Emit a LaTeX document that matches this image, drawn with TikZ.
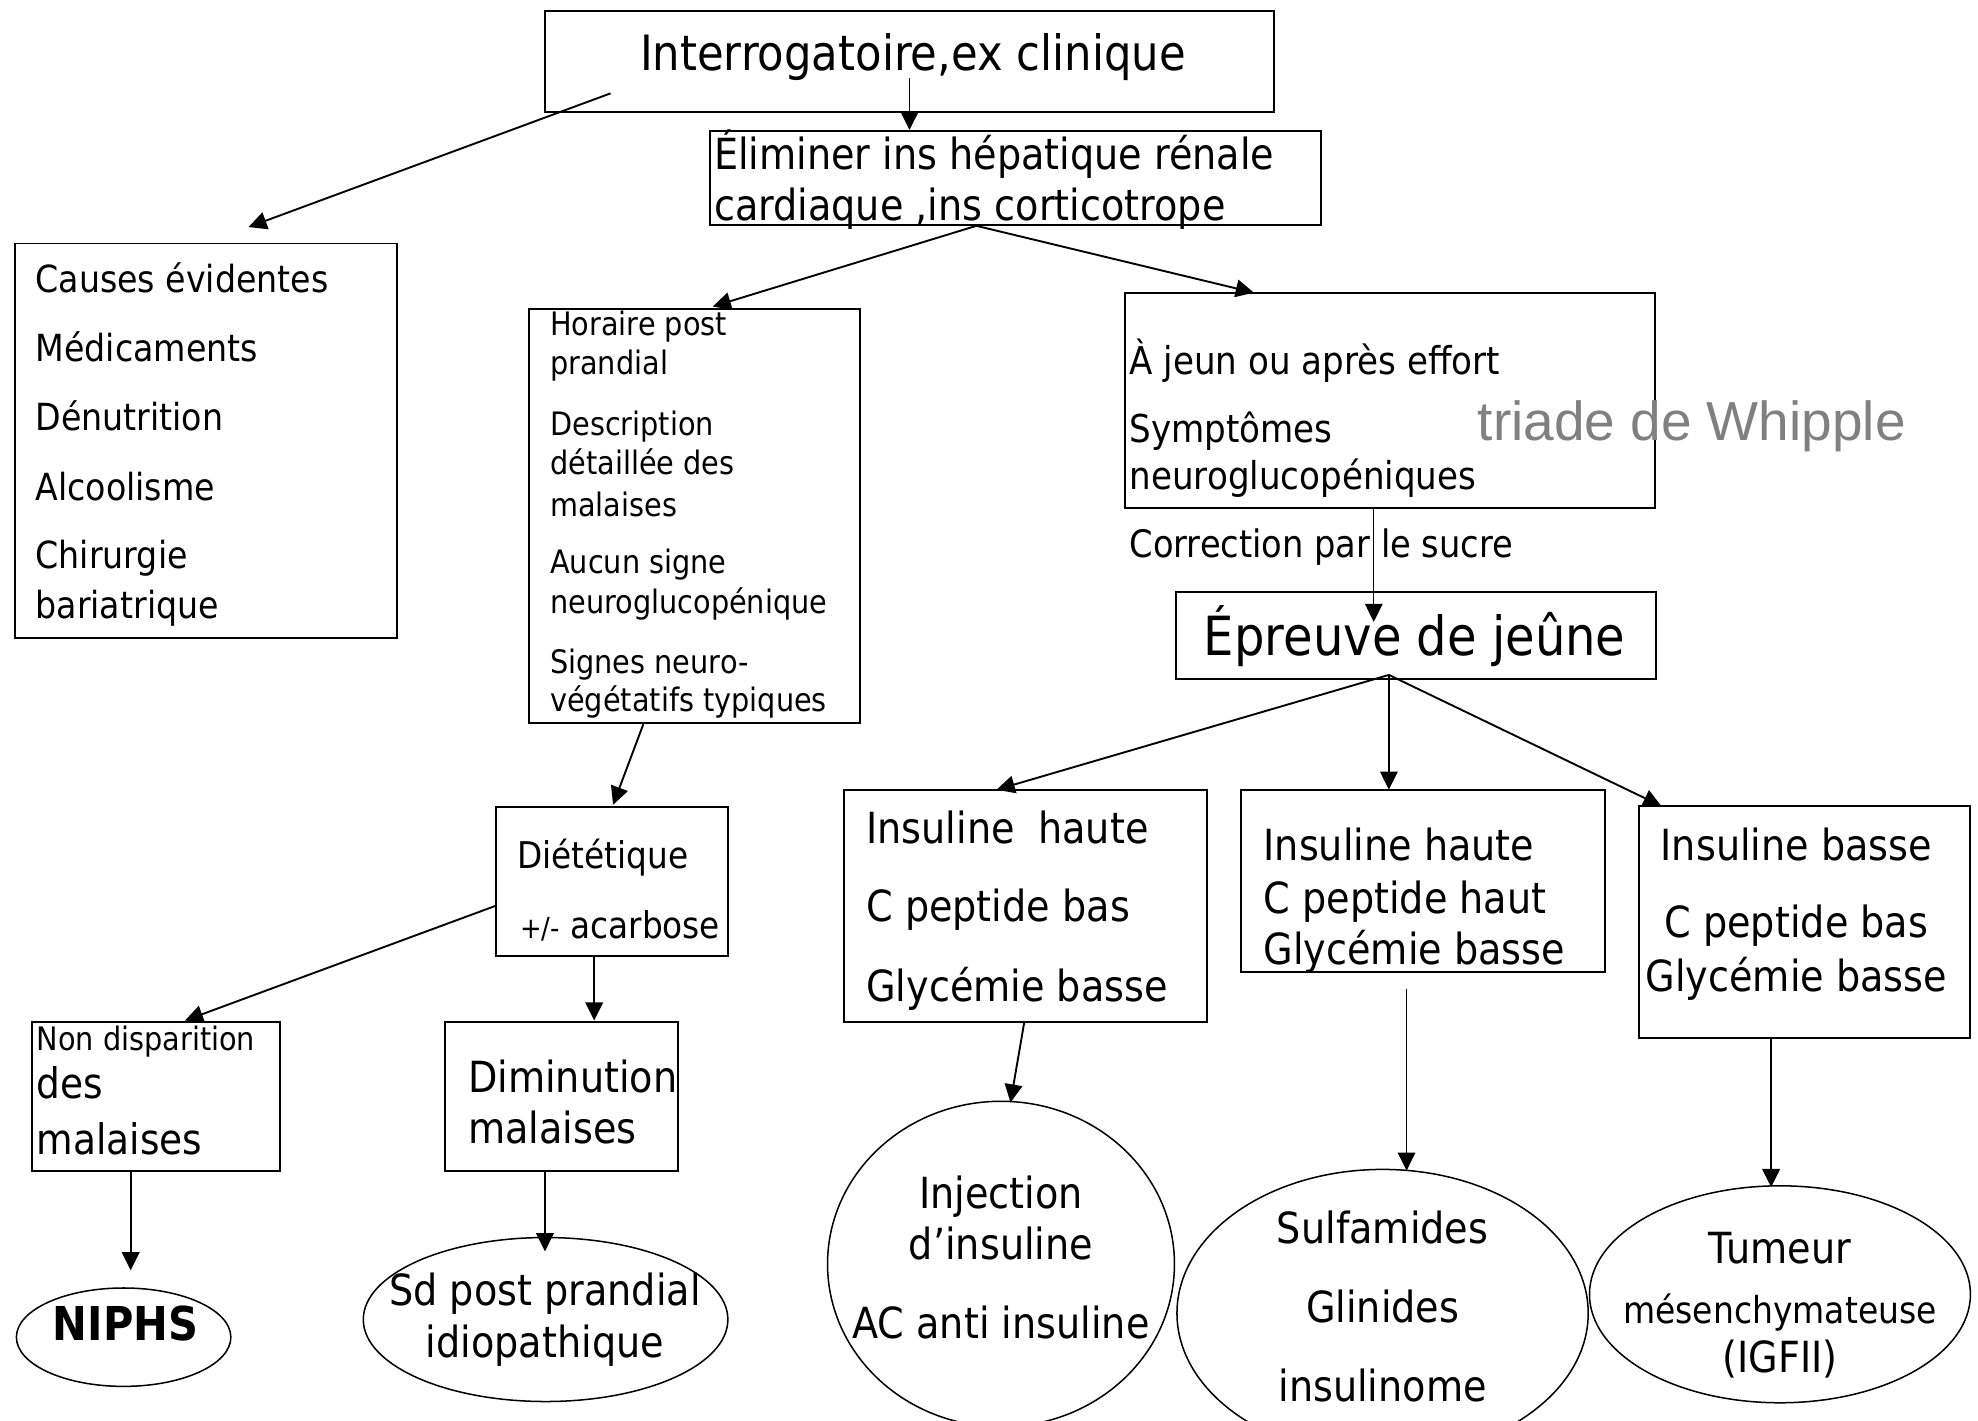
\documentclass[tikz,border=0pt]{standalone}
\usepackage{fontspec}
\setmainfont{DejaVu Sans}[FakeStretch=0.89]
\newfontfamily\whfont{Liberation Sans}
\usetikzlibrary{shapes.geometric,arrows.meta,fit}
\newcommand\fsz[1]{\fontsize{#1pt}{#1pt}\selectfont}
\begin{document}
\begin{tikzpicture}[x=0.5pt,y=-0.5pt,
 box/.style={draw, rectangle, inner sep=0pt, line width=0.75pt},
 ell/.style={draw, ellipse, inner sep=0pt, line width=0.6pt},
 txt/.style={inner sep=0pt, anchor=base west},
 ctxt/.style={inner sep=0pt, anchor=base},
 arr/.style={-{Triangle[length=7.2pt,width=7pt]}, line width=0.75pt},
 thinarr/.style={arr, line width=0.5pt}]
\fill[white] (0,0) rectangle (1568,1126);
\useasboundingbox (0,0) rectangle (1568,1126);

% ---------- boxes ----------
\node[box, fit={(432,9) (1010,88.5)}] (top) {};
\node[box, fit={(563,103.6) (1047,178.4)}] (elim) {};
\node[box, fit={(11.6,193) (314.5,506)}] (causes) {};
\node[box, fit={(419.6,245) (682,573)}] (horaire) {};
\node[box, fit={(892,232) (1312,403)}] (jeun) {};
\node[box, fit={(932,469) (1312.6,538)}] (epreuve) {};
\node[box, fit={(669,626) (957,810)}] (boxA) {};
\node[box, fit={(984,626) (1272,770.5)}] (boxB) {};
\node[box, fit={(1299,639) (1561.6,823)}] (boxC) {};
\node[box, fit={(393,639.5) (577,757.5)}] (diet) {};
\node[box, fit={(25.3,810) (222,928)}] (nond) {};
\node[box, fit={(353,810) (537.5,928)}] (dimin) {};

% ---------- ellipses ----------
\node[ell, minimum width=137.5pt, minimum height=129pt] (elA) at (793.5,1002) {};
\node[ell, minimum width=163pt, minimum height=114pt] (elB) at (1096,1041) {};
\node[ell, minimum width=151pt, minimum height=86pt] (elC) at (1411,1026) {};
\node[ell, minimum width=85pt, minimum height=39pt] (niphs) at (98,1060) {};
\node[ell, minimum width=144.5pt, minimum height=65pt] (sd) at (432.5,1046) {};

% ---------- texts ----------
\node[txt, font=\fsz{19.3}] (t1) at (507,56) {Interrogatoire,ex clinique};
\node[txt, font=\fsz{17}] (e1) at (565.6,134.2) {Éliminer ins hépatique rénale};
\node[txt, font=\fsz{17}] (e2) at (565.6,174.4) {cardiaque ,ins corticotrope};

\node[txt, font=\fsz{14.8}] (c1) at (27.8,231.8) {Causes évidentes};
\node[txt, font=\fsz{14.8}] (c2) at (27.8,286.6) {Médicaments};
\node[txt, font=\fsz{14.8}] (c3) at (27.8,341.5) {Dénutrition};
\node[txt, font=\fsz{14.8}] (c4) at (27.8,396.4) {Alcoolisme};
\node[txt, font=\fsz{14.8}] (c5) at (27.8,451) {Chirurgie};
\node[txt, font=\fsz{14.8}] (c6) at (27.8,490) {bariatrique};

\node[txt, font=\fsz{12.8}] (h1) at (435.8,266) {Horaire post};
\node[txt, font=\fsz{12.8}] (h2) at (435.8,296.6) {prandial};
\node[txt, font=\fsz{12.8}] (h3) at (435.8,345) {Description};
\node[txt, font=\fsz{12.8}] (h4) at (435.8,375.8) {détaillée des};
\node[txt, font=\fsz{12.8}] (h5) at (435.8,409.8) {malaises};
\node[txt, font=\fsz{12.8}] (h6) at (435.8,454.8) {Aucun signe};
\node[txt, font=\fsz{12.8}] (h7) at (435.8,486.6) {neuroglucopénique};
\node[txt, font=\fsz{12.8}] (h8) at (435.8,533.6) {Signes neuro-};
\node[txt, font=\fsz{12.8}] (h9) at (435.8,564) {végétatifs typiques};

\node[txt, font=\fsz{15.2}] (j1) at (895,297) {À jeun ou après effort};
\node[txt, font=\fsz{15.2}] (j2) at (895,351) {Symptômes};
\node[txt, font=\fsz{15.2}] (j3) at (895,388) {neuroglucopéniques};
\node[txt, font={\whfont\fontsize{21.8pt}{21.8pt}\selectfont}, text=black!50] (wh) at (1171,349) {triade de Whipple};
\node[txt, font=\fsz{15}] (corr) at (895,442) {Correction par le sucre};

\node[txt, font=\fsz{21.4}] (ep) at (954,520) {Épreuve de jeûne};

\node[txt, font=\fsz{17}] (a1) at (686.3,668.6) {Insuline\hspace{0.55em}haute};
\node[txt, font=\fsz{17}] (a2) at (686.3,730.8) {C peptide bas};
\node[txt, font=\fsz{17}] (a3) at (686.3,794) {Glycémie basse};

\node[txt, font=\fsz{17}] (b1) at (1001.3,682) {Insuline haute};
\node[txt, font=\fsz{17}] (b2) at (1001.3,723.8) {C peptide haut};
\node[txt, font=\fsz{17}] (b3) at (1001.3,764.7) {Glycémie basse};

\node[ctxt, font=\fsz{17}] (k1) at (1424,682) {Insuline basse};
\node[ctxt, font=\fsz{17}] (k2) at (1424,743) {C peptide bas};
\node[ctxt, font=\fsz{17}] (k3) at (1424,786) {Glycémie basse};

\node[ctxt, font=\fsz{17}] (ia1) at (793.5,957.6) {Injection};
\node[ctxt, font=\fsz{17}] (ia2) at (793.5,998.5) {d’insuline};
\node[ctxt, font=\fsz{17}] (ia3) at (793.5,1060.8) {AC anti insuline};

\node[ctxt, font=\fsz{17}] (ib1) at (1096,986) {Sulfamides};
\node[ctxt, font=\fsz{17}] (ib2) at (1096,1048) {Glinides};
\node[ctxt, font=\fsz{17}] (ib3) at (1096,1111) {insulinome};

\node[ctxt, font=\fsz{17}] (ic1) at (1411,1001.7) {Tumeur};
\node[ctxt, font=\fsz{14.7}] (ic2) at (1411,1049) {mésenchymateuse};
\node[ctxt, font=\fsz{17}] (ic3) at (1411,1088) {(IGFII)};

\node[txt, font=\fsz{14.6}] (d1) at (409.5,688.6) {Diététique};
\node[txt, font=\fsz{14.6}] (d2) at (412,743.7) {{\fsz{11.5}+/-} acarbose};

\node[txt, font=\fsz{12.8}] (n1) at (28.8,832.5) {Non disparition};
\node[txt, font=\fsz{16.7}] (n2) at (28.8,871) {des};
\node[txt, font=\fsz{16.7}] (n3) at (28.8,915) {malaises};

\node[txt, font=\fsz{17}] (m1) at (370.6,866) {Diminution};
\node[txt, font=\fsz{17}] (m2) at (370.6,906.6) {malaises};

\node[ctxt, font=\bfseries\fsz{18.5}] (np) at (99.5,1063) {NIPHS};
\node[ctxt, font=\fsz{17}] (s1) at (432,1035) {Sd post prandial};
\node[ctxt, font=\fsz{17}] (s2) at (432,1076) {idiopathique};

% ---------- connector ends ----------
\coordinate (p1) at (484,74);    \coordinate (q1) at (197,180);
\coordinate (p2) at (721,62);    \coordinate (q2) at (721,103);
\coordinate (p3) at (774,179);   \coordinate (q3) at (565,243);
                                 \coordinate (q4) at (994,232);
\coordinate (p5) at (1089,403);  \coordinate (q5) at (1089,493);
\coordinate (p6) at (1101,535);  \coordinate (q6) at (790,626);
                                 \coordinate (q7) at (1101,626);
                                 \coordinate (q8) at (1317,639);
\coordinate (p9) at (812,810);   \coordinate (q9) at (801,874);
\coordinate (p10) at (1115,784); \coordinate (q10) at (1115,928);
\coordinate (p11) at (1404,823); \coordinate (q11) at (1404,941);
\coordinate (p12) at (510,574);  \coordinate (q12) at (486,638);
\coordinate (p13) at (393,718);  \coordinate (q13) at (146.6,809);
\coordinate (p14) at (471,757.5);\coordinate (q14) at (471,809);
\coordinate (p15) at (103.6,928);\coordinate (q15) at (103.6,1007);
\coordinate (p16) at (432,928);  \coordinate (q16) at (432,992);

% ---------- connectors ----------
\draw[arr] (p1) -- (q1);
\draw[arr] (p2) -- (q2);
\draw[arr] (p3) -- (q3);
\draw[arr] (p3) -- (q4);
\draw[thinarr] (p5) -- (q5);
\draw[arr] (p6) -- (q6);
\draw[thinarr] (p6) -- (q7);
\draw[arr] (p6) -- (q8);
\draw[arr] (p9) -- (q9);
\draw[thinarr] (p10) -- (q10);
\draw[arr] (p11) -- (q11);
\draw[arr] (p12) -- (q12);
\draw[arr] (p13) -- (q13);
\draw[arr] (p14) -- (q14);
\draw[arr] (p15) -- (q15);
\draw[thinarr] (p16) -- (q16);
\end{tikzpicture}
\end{document}
